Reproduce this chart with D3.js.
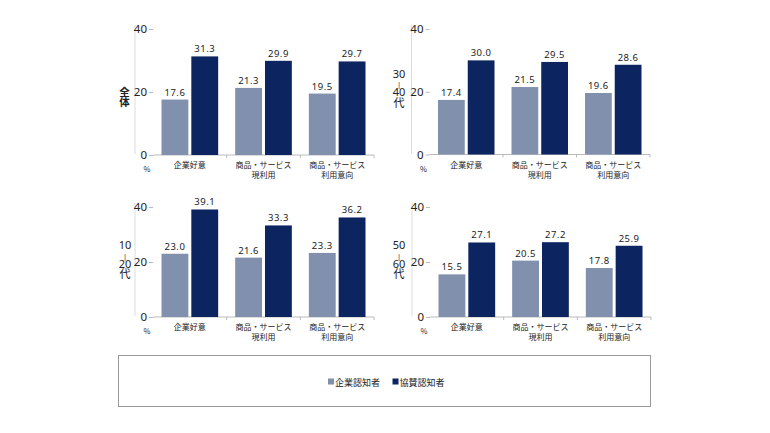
<!DOCTYPE html>
<html>
<head>
<meta charset="utf-8">
<script src="https://cdn.jsdelivr.net/npm/d3@7/dist/d3.min.js"></script>
<style>
  body { margin: 0; background: #fff; }
  svg text { font-family: "Noto Sans CJK JP", "Noto Sans", sans-serif; fill: #222; }
</style>
</head>
<body>
<div id="chartbox"></div>
<script>
// data
var categories = [["企業好意"], ["商品・サービス", "現利用"], ["商品・サービス", "利用意向"]];
var seriesNames = ["企業認知者", "協賛認知者"];
var colors = ["#8190ad", "#0c2561"];
var yTicks = [0, 20, 40];
var panelNames = [["全", "体"], ["30", "|", "40", "代"], ["10", "|", "20", "代"], ["50", "|", "60", "代"]];
var allValues = [[17.6, 21.3, 19.5], [17.4, 21.5, 19.6], [23.0, 21.6, 23.3], [15.5, 20.5, 17.8]];
var sponsorValues = [[31.3, 29.9, 29.7], [30.0, 29.5, 28.6], [39.1, 33.3, 36.2], [27.1, 27.2, 25.9]];

const width = 770, height = 433;
d3.select('#chartbox').html(null);
var svg = d3.select('#chartbox').append('svg')
  .attr('width', width).attr('height', height)
  .attr('viewBox', [0, 0, width, height]);

// panel boxes: left/right of baseline, baseline y, y of 40
var boxes = [
  {x0: 153, x1: 374, y0: 155, y1: 29, nameX: 124.5, nameY: 91.5},
  {x0: 429.5, x1: 650, y0: 154.5, y1: 29, nameX: 399, nameY: 73.5},
  {x0: 153, x1: 374, y0: 317, y1: 207, nameX: 125, nameY: 245},
  {x0: 430, x1: 651, y0: 317, y1: 207, nameX: 399, nameY: 245}
];

boxes.forEach(function(b, p) {
  var g = svg.append('g');
  var x = d3.scaleBand().domain(d3.range(categories.length)).range([b.x0, b.x1]);
  var xs = d3.scaleBand().domain([0, 1]).range([8.5, x.bandwidth() - 8.5]).paddingInner(0.1);
  var y = d3.scaleLinear().domain([0, 40]).range([b.y0, b.y1]);

  // faint vertical line left of the tick labels
  g.append('line').attr('x1', b.x0 - 18).attr('x2', b.x0 - 18)
    .attr('y1', b.y1 - 4).attr('y2', b.y0 - 1)
    .attr('stroke', '#dcdcdc').attr('stroke-width', 1);

  var yAxis = d3.axisLeft(y).tickValues(yTicks).tickSize(4).tickPadding(2);
  var ya = g.append('g').attr('transform', 'translate(' + b.x0 + ',0)').call(yAxis);
  ya.select('.domain').remove();
  ya.selectAll('line').attr('stroke', '#bbb');
  ya.selectAll('text').attr('font-size', 11.5).attr('fill', '#333')
    .style('font-family', '"Noto Sans", sans-serif');

  // baseline with group ticks
  g.append('line').attr('x1', b.x0).attr('x2', b.x1).attr('y1', b.y0).attr('y2', b.y0)
    .attr('stroke', '#bbb');
  d3.range(1, categories.length + 1).forEach(function(i) {
    var xx = i < categories.length ? x(i) : b.x1;
    g.append('line').attr('x1', xx).attr('x2', xx).attr('y1', b.y0).attr('y2', b.y0 + 3)
      .attr('stroke', '#bbb');
  });

  var rows = categories.map(function(c, i) {
    return [allValues[p][i], sponsorValues[p][i]];
  });
  var grp = g.selectAll('g.grp').data(rows).join('g').attr('class', 'grp')
    .attr('transform', function(d, i) { return 'translate(' + x(i) + ',0)'; });
  grp.selectAll('rect').data(function(d) { return d; }).join('rect')
    .attr('x', function(d, j) { return xs(j); })
    .attr('width', xs.bandwidth())
    .attr('y', function(d) { return y(d); })
    .attr('height', function(d) { return b.y0 - y(d); })
    .attr('fill', function(d, j) { return colors[j]; });
  grp.selectAll('text.val').data(function(d) { return d; }).join('text').attr('class', 'val')
    .attr('x', function(d, j) { return xs(j) + xs.bandwidth() / 2; })
    .attr('y', function(d) { return y(d) - 4; })
    .attr('text-anchor', 'middle').attr('font-size', 9.5)
    .attr('letter-spacing', 0.5)
    .style('font-family', '"Noto Sans", sans-serif')
    .text(function(d) { return d.toFixed(1); });

  // category labels
  categories.forEach(function(c, i) {
    c.forEach(function(line, k) {
      g.append('text').attr('x', x(i) + x.bandwidth() / 2).attr('y', b.y0 + 13 + k * 10)
        .attr('text-anchor', 'middle').attr('font-size', 8).text(line);
    });
  });
  g.append('text').attr('x', b.x0 - 6).attr('y', b.y0 + 17).attr('text-anchor', 'middle')
    .attr('font-size', 7.5).attr('fill', '#444').text('%');

  // panel name, stacked vertically in one text element
  var nm = panelNames[p];
  var step = nm.length > 2 ? [0, 9.5, 18.5, 29] : [0, 10.5];
  var nt = g.append('text').attr('text-anchor', 'middle')
    .attr('font-weight', nm.length > 2 ? 'normal' : 'bold');
  nm.forEach(function(s, k) {
    nt.append('tspan').attr('x', b.nameX).attr('y', b.nameY + step[k] + 4)
      .attr('font-size', s === '|' ? 7.5 : (nm.length > 2 ? 11 : 10.5))
      .style('font-family', s === '|' || /\d/.test(s) ? '"Noto Sans", sans-serif' : null)
      .text(s);
  });
});

// legend
svg.append('rect').attr('x', 118.5).attr('y', 355.5).attr('width', 532).attr('height', 51)
  .attr('fill', 'none').attr('stroke', '#999');
var legX = [328, 392.5];
seriesNames.forEach(function(n, i) {
  svg.append('rect').attr('x', legX[i]).attr('y', 378.5).attr('width', 6).attr('height', 6)
    .attr('fill', colors[i]);
  svg.append('text').attr('x', legX[i] + 7).attr('y', 382)
    .attr('dominant-baseline', 'central').attr('font-size', 9).text(n);
});
</script>
</body>
</html>
